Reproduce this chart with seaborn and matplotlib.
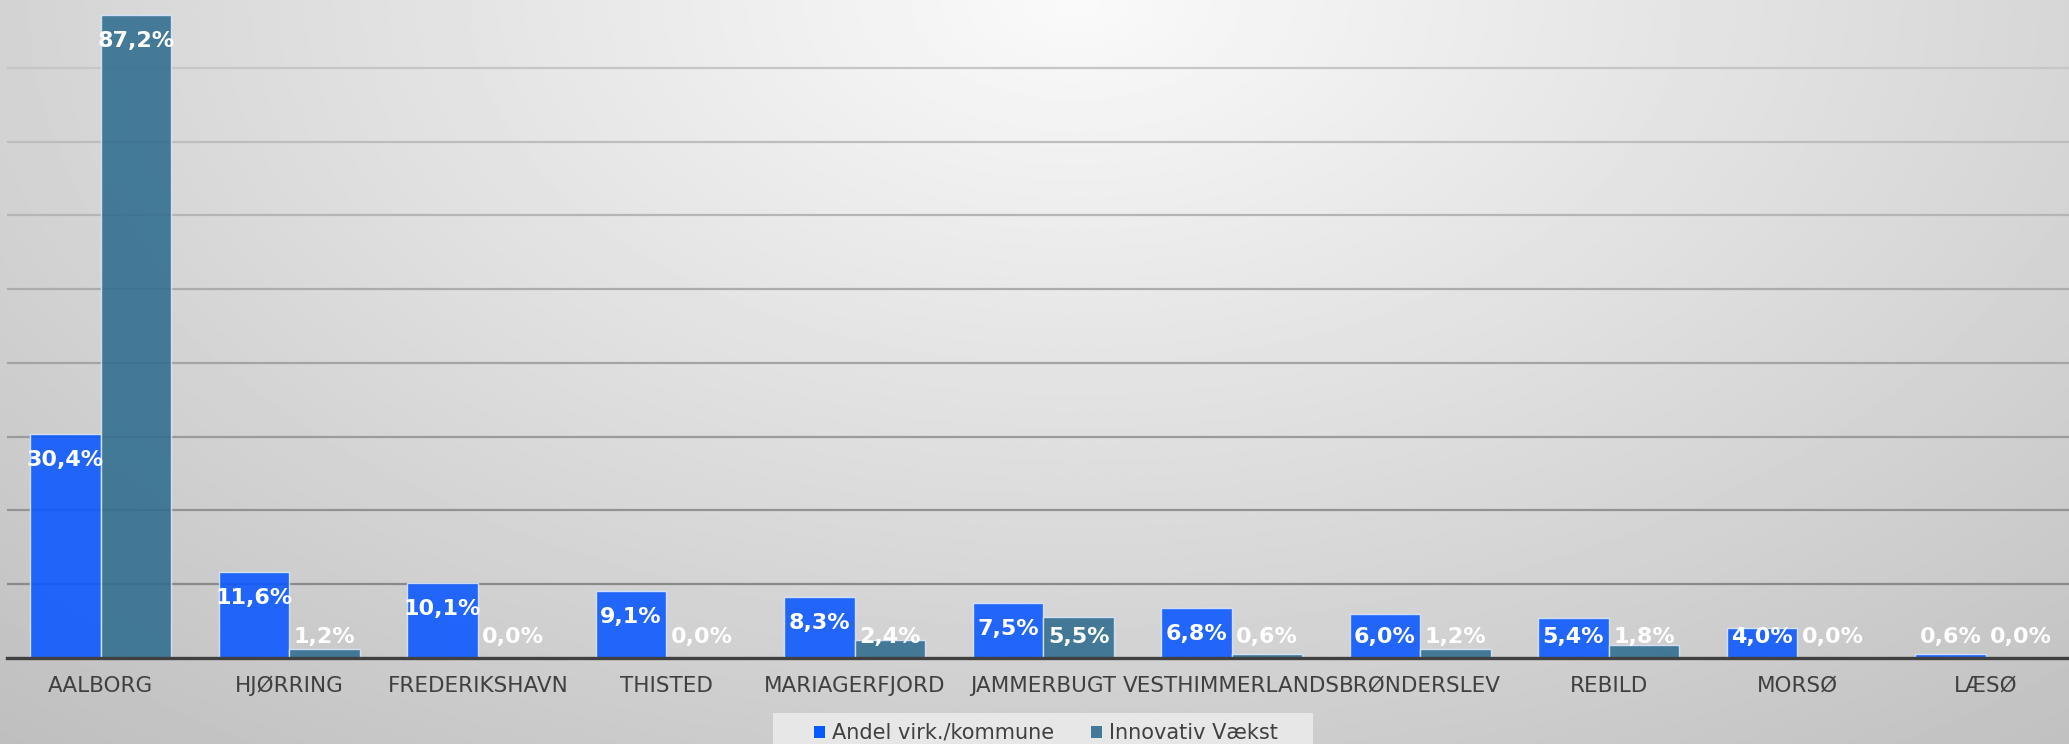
import numpy as np
import pandas as pd
import matplotlib
matplotlib.use("Agg")
import matplotlib.pyplot as plt
import seaborn as sns
from matplotlib.patches import Patch, Rectangle

kommuner = ["AALBORG", "HJØRRING", "FREDERIKSHAVN", "THISTED", "MARIAGERFJORD",
            "JAMMERBUGT", "VESTHIMMERLANDS", "BRØNDERSLEV", "REBILD", "MORSØ", "LÆSØ"]
andel_virk = [30.4, 11.6, 10.1, 9.1, 8.3, 7.5, 6.8, 6.0, 5.4, 4.0, 0.6]
innovativ_vaekst = [87.2, 1.2, 0.0, 0.0, 2.4, 5.5, 0.6, 1.2, 1.8, 0.0, 0.0]
serier = ["Andel virk./kommune", "Innovativ Vækst"]
grid_ticks = [10, 20, 30, 40, 50, 60, 70, 80]

df = pd.DataFrame({
    "kommune": kommuner * 2,
    "serie": [serier[0]] * len(kommuner) + [serier[1]] * len(kommuner),
    "value": andel_virk + innovativ_vaekst,
})

sns.set_theme(style="white")
plt.rcParams["font.family"] = ["DejaVu Sans"]

W, H = 2069, 744
fig = plt.figure(figsize=(W / 100, H / 100), dpi=100)

# radial gradient background
bg = fig.add_axes([0, 0, 1, 1], zorder=-5)
yy, xx = np.mgrid[0:1:300j, 0:1:800j]
r = np.sqrt(((xx - 0.52) / 0.75) ** 2 + ((yy - 0.0) / 1.25) ** 2)
val = 250 - 56 * np.clip(r, 0, 1.2)
bg.imshow(val, cmap="gray", vmin=0, vmax=255, aspect="auto", extent=[0, 1, 1, 0],
          interpolation="bilinear")
bg.set_axis_off()

# main axes
left = 6.5 / W
base_y = 658.0
ax = fig.add_axes([left, (H - base_y) / H, 2073.5 / W, base_y / H])
ax.patch.set_alpha(0)

blue = "#0957FF"
teal = "#2F6D8F"
sns.barplot(data=df, x="kommune", y="value", hue="serie", palette=[blue, teal],
            saturation=1, width=0.75, alpha=0.88, edgecolor="#dce8ff", linewidth=1.0,
            ax=ax, legend=False, zorder=3)

ax.set_xlim(-0.5, len(kommuner) - 0.5)
ax.set_ylim(0, 89.2)
ax.set_yticks(grid_ticks)
ax.yaxis.grid(True, linewidth=1.6)
ax.set_axisbelow(True)
gl = ax.yaxis.get_gridlines()
for i, line in enumerate(gl):
    g = 0x8a + (0xc6 - 0x8a) * i / (len(gl) - 1)
    line.set_color((g / 255, g / 255, g / 255))
ax.tick_params(axis="y", left=False, labelleft=False)
ax.tick_params(axis="x", bottom=False, pad=7, labelsize=15.5, labelcolor="#404040")
ax.set_xlabel("")
ax.set_ylabel("")
for s in ["top", "right", "left"]:
    ax.spines[s].set_visible(False)
ax.spines["bottom"].set_color("#404040")
ax.spines["bottom"].set_linewidth(2.4)
ax.spines["bottom"].set_zorder(5)

# data labels
px_per_unit = base_y / 89.2
for cont, vals in zip(ax.containers, [andel_virk, innovativ_vaekst]):
    for bar, v in zip(cont, vals):
        cx = bar.get_x() + bar.get_width() / 2
        yc = max(v - 24 / px_per_unit, 22.5 / px_per_unit)
        yb = yc - 8 / px_per_unit
        ax.text(cx, yb, f"{v:.1f}%".replace(".", ","), ha="center", va="baseline",
                color="white", fontsize=16, fontweight="bold", zorder=6)

# legend
fig.patches.append(Rectangle((773 / W, 0), (1313 - 773) / W, (H - 712.7) / H,
                             transform=fig.transFigure, facecolor="#e7e7e7",
                             edgecolor="none", zorder=1))
handles = [Patch(facecolor=blue, edgecolor="none"),
           Patch(facecolor=teal, edgecolor="none", alpha=0.9)]
leg = fig.legend(handles, serier, loc="center", bbox_to_anchor=(1046 / W, 1 - 733 / H),
                 ncol=2, frameon=False, fontsize=15, handlelength=0.52, handleheight=0.52,
                 handletextpad=0.35, columnspacing=1.75, borderpad=0.3)
for t in leg.get_texts():
    t.set_color("#404040")

fig.savefig("out.png", dpi=100)
